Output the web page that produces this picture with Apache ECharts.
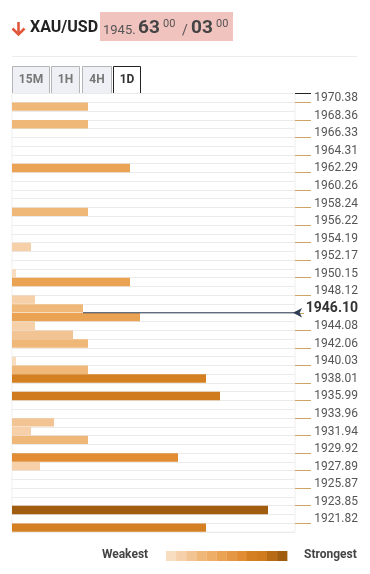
<!DOCTYPE html>
<html>
<head>
<meta charset="utf-8">
<script src="https://cdn.jsdelivr.net/npm/echarts@6/dist/echarts.min.js"></script>
<style>
html,body{margin:0;padding:0;background:#fff;}
#chart{width:370px;height:574px;}
</style>
</head>
<body>
<div id="chart"></div>
<script>
// ---- data ----
// strength of each price row (top row first), 50 rows
var strengths = [0,76,0,76,0,0,0,0,118,0,0,0,0,76,0,0,0,19,0,0,4,118,0,23,71,128,23,61,76,0,4,76,194,0,208,0,0,42,19,76,0,166,28,0,0,0,0,256,0,194];
// price tick labels (shown at every other row boundary, starting at boundary 1)
var tickLabels = ['1970.38','1968.36','1966.33','1964.31','1962.29','1960.26','1958.24','1956.22','1954.19','1952.17','1950.15','1948.12','1946.10','1944.08','1942.06','1940.03','1938.01','1935.99','1933.96','1931.94','1929.92','1927.89','1925.87','1923.85','1921.82'];
var currentPrice = '1946.10';
var palette = ['#f9ddc1','#f6d0a8','#f3c493','#f0b878','#eeae68','#eaa253','#e69746','#e28c33','#d37f22','#cf7b1e','#b86a14','#a05d10'];
var strengthMax = 256;
var xMax = 283;

// ---- derived ----
var rows = strengths.map(function(_, i){ return 'r' + i; });
var boundaries = [];
for (var j = 0; j <= strengths.length; j++) {
  boundaries.push(j % 2 === 1 ? tickLabels[(j - 1) / 2] : 'b' + j);
}
var curIdx = boundaries.indexOf(currentPrice);
function colorFor(v){
  var k = Math.round(v / strengthMax * (palette.length - 1) - 0.2);
  return palette[Math.max(0, Math.min(palette.length - 1, k))];
}

var chart = echarts.init(document.getElementById('chart'), null, {renderer:'canvas'});

var graphics = [];
// header arrow
graphics.push({type:'polyline', shape:{points:[[18.5,22],[18.5,34.5]]}, style:{stroke:'#e0573c', lineWidth:2.6, fill:null}});
graphics.push({type:'polyline', shape:{points:[[12.5,28.5],[18.5,34.5],[24.5,28.5]]}, style:{stroke:'#e0573c', lineWidth:2.6, fill:null, lineJoin:'miter'}});
graphics.push({type:'text', x:30, y:28, style:{text:'XAU/USD', font:'bold 16px Roboto', fill:'#222', verticalAlign:'middle'}});
graphics.push({type:'rect', shape:{x:100, y:12, width:133, height:29}, style:{fill:'#f1c3be'}});
graphics.push({type:'text', x:103, y:30.5, style:{text:'1945.', font:'13px Roboto', fill:'#555', verticalAlign:'middle'}});
graphics.push({type:'text', x:138, y:28.5, style:{text:'63', font:'bold 19px Roboto', fill:'#444', verticalAlign:'middle'}});
graphics.push({type:'text', x:163, y:24, style:{text:'00', font:'11px Roboto', fill:'#555', verticalAlign:'middle'}});
graphics.push({type:'text', x:182, y:31, style:{text:'/', font:'14px Roboto', fill:'#555', verticalAlign:'middle'}});
graphics.push({type:'text', x:191, y:28.5, style:{text:'03', font:'bold 19px Roboto', fill:'#444', verticalAlign:'middle'}});
graphics.push({type:'text', x:216, y:24, style:{text:'00', font:'11px Roboto', fill:'#555', verticalAlign:'middle'}});
// divider
graphics.push({type:'line', shape:{x1:12, y1:56.5, x2:357, y2:56.5}, style:{stroke:'#ececec', lineWidth:1}});
// tabs
var tabs = [['15M',12.5,37],['1H',51.5,28],['4H',82.5,29]];
tabs.forEach(function(t){
  graphics.push({type:'rect', shape:{x:t[1], y:66.5, width:t[2], height:27}, style:{fill:'#eef0f5', stroke:'#b5b5b5', lineWidth:1}});
  graphics.push({type:'text', x:t[1] + t[2]/2, y:80, style:{text:t[0], font:'bold 12px Roboto', fill:'#777', align:'center', verticalAlign:'middle'}});
});
graphics.push({type:'polyline', shape:{points:[[113.5,94],[113.5,66.5],[140.5,66.5],[140.5,93.5],[311,93.5]]}, style:{stroke:'#222', lineWidth:1, fill:null}});
graphics.push({type:'text', x:127, y:80, style:{text:'1D', font:'bold 12px Roboto', fill:'#333', align:'center', verticalAlign:'middle'}});
// legend
graphics.push({type:'text', x:125, y:555, style:{text:'Weakest', font:'bold 12px Roboto', fill:'#444', align:'center', verticalAlign:'middle'}});
palette.forEach(function(c, i){
  graphics.push({type:'rect', shape:{x:166 + i*10.1, y:551, width:10.3, height:10}, style:{fill:c}});
});
graphics.push({type:'text', x:304, y:555, style:{text:'Strongest', font:'bold 12px Roboto', fill:'#444', verticalAlign:'middle'}});

var option = {
  animation:false,
  textStyle:{fontFamily:'Roboto'},
  grid:{left:12, right:75, top:93.5, bottom:42, show:true, borderColor:'#efefef', borderWidth:1, outerBoundsMode:'none', containLabel:false},
  xAxis:{type:'value', min:0, max:xMax, show:false, splitLine:{show:false}},
  yAxis:[
    {type:'category', data:rows, inverse:true, boundaryGap:true,
     axisLine:{show:false}, axisTick:{show:false}, axisLabel:{show:false},
     splitLine:{show:true, interval:0, lineStyle:{color:'#ebebeb', width:1}}},
    {type:'category', data:boundaries, inverse:true, boundaryGap:false, position:'right',
     axisLine:{show:false},
     axisTick:{show:true, length:16, interval:function(i){ return i % 2 === 1 && i !== curIdx; }, lineStyle:{color:'#cfa567', width:1}},
     axisLabel:{show:true, interval:function(i){ return i % 2 === 1; }, margin:63, align:'right', verticalAlign:'middle',
       padding:[0,0,8,0],
       fontSize:12, color:'#555', fontFamily:'Roboto',
       formatter:function(v){ return v === currentPrice ? '{b|' + v + '}' : v; },
       rich:{b:{fontSize:14, fontWeight:'bold', color:'#333', fontFamily:'Roboto'}}},
     splitLine:{show:false}},
    {type:'category', data:boundaries, inverse:true, boundaryGap:false, position:'right',
     axisLine:{show:false}, axisLabel:{show:false}, splitLine:{show:false},
     axisTick:{show:true, length:9, interval:function(i){ return i === curIdx; }, lineStyle:{color:'#cfa567', width:1}}}
  ],
  series:[
    {type:'bar', xAxisIndex:0, yAxisIndex:0, barCategoryGap:'4%',
     data:strengths.map(function(v){ return {value:v, itemStyle:{color:colorFor(v)}}; })},
    {type:'line', xAxisIndex:0, yAxisIndex:1, z:5, clip:false,
     lineStyle:{color:'#2f3f55', width:1},
     itemStyle:{color:'#2f3f55'},
     data:[
       {value:[strengths[curIdx - 1], curIdx], symbol:'none'},
       {value:[xMax, curIdx], symbol:'arrow', symbolSize:[7,9], symbolRotate:90, symbolOffset:[-2,0]}
     ]}
  ],
  graphic:graphics
};
chart.setOption(option);
</script>
</body>
</html>
